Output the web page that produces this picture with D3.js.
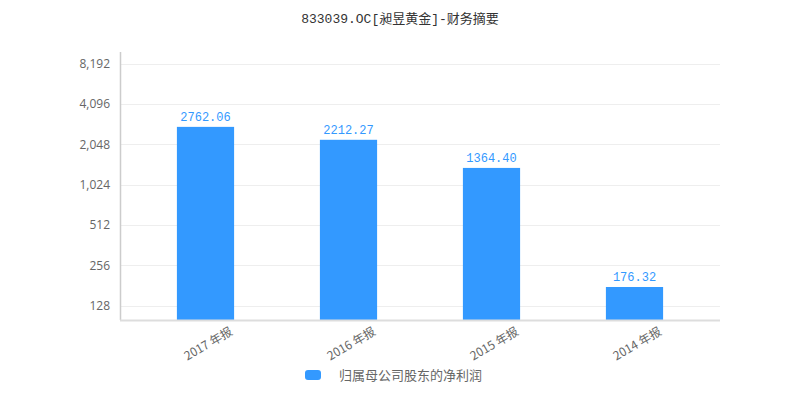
<!DOCTYPE html>
<html><head><meta charset="utf-8">
<script src="https://cdn.jsdelivr.net/npm/d3@7"></script>
<style>body{margin:0;background:#fff}svg{display:block}</style>
</head><body>
<svg id="c" width="800" height="400"></svg>
<script>
const title = "833039.OC[昶昱黄金]-财务摘要";
const categories = ["2017 年报", "2016 年报", "2015 年报", "2014 年报"];
const values = [2762.06, 2212.27, 1364.40, 176.32];
const valueLabels = ["2762.06", "2212.27", "1364.40", "176.32"];
const yTicks = [128, 256, 512, 1024, 2048, 4096, 8192];
const seriesName = "归属母公司股东的净利润";

(function(){
const svg = d3.select("#c");
const pL = 120, pR = 720, pT = 52, pB = 320;
const barColor = "#3399ff";

const y = d3.scaleLog().base(2).domain([100, 10000]).range([pB, pT]);
const x = d3.scaleBand().domain(categories).range([134, 706]).paddingInner(0.6).paddingOuter(0.3);

// title
svg.append("text").attr("x", 400).attr("y", 23).attr("text-anchor", "middle")
  .attr("font-family", "'Liberation Mono','Noto Sans CJK SC',monospace").attr("font-size", 13)
  .attr("fill", "#333").text(title);

// grid
svg.append("g").selectAll("line").data(yTicks).join("line")
  .attr("x1", pL).attr("x2", pR)
  .attr("y1", d => Math.round(y(d)) + 0.5).attr("y2", d => Math.round(y(d)) + 0.5)
  .attr("stroke", "#eeeeee").attr("stroke-width", 1);

// y axis
const yAxis = d3.axisLeft(y).tickValues(yTicks).tickFormat(d3.format(",")).tickSize(0).tickPadding(10);
const gy = svg.append("g").attr("transform", `translate(${pL},0)`).call(yAxis);
gy.select(".domain").remove();
gy.selectAll("text").attr("font-family", "'Open Sans','Noto Sans',sans-serif").attr("font-size", 12).attr("fill", "#666");
svg.append("line").attr("x1", pL + 0.5).attr("x2", pL + 0.5).attr("y1", pT).attr("y2", pB)
  .attr("stroke", "#cccccc").attr("stroke-width", 1.5);

// bars
svg.append("g").selectAll("rect").data(values).join("rect")
  .attr("x", (d, i) => x(categories[i]))
  .attr("width", x.bandwidth())
  .attr("y", d => y(d))
  .attr("height", d => pB - y(d))
  .attr("fill", barColor);

// value labels
svg.append("g").selectAll("text").data(values).join("text")
  .attr("x", (d, i) => x(categories[i]) + x.bandwidth() / 2)
  .attr("y", d => y(d) - 6)
  .attr("text-anchor", "middle")
  .attr("font-family", "'Liberation Mono',monospace").attr("font-size", 12)
  .attr("fill", barColor)
  .text((d, i) => valueLabels[i]);

// x axis line
svg.append("line").attr("x1", pL).attr("x2", pR).attr("y1", pB + 0.5).attr("y2", pB + 0.5)
  .attr("stroke", "#dddddd").attr("stroke-width", 2);

// x labels
const xAxis = d3.axisBottom(x).tickSize(0).tickPadding(0);
const gx = svg.append("g").attr("transform", `translate(0,${pB})`).call(xAxis);
gx.select(".domain").remove();
gx.selectAll("text")
  .attr("font-family", "'Noto Sans CJK SC','Open Sans',sans-serif").attr("font-size", 12).attr("fill", "#666")
  .attr("text-anchor", "end").attr("dy", null).attr("y", 0)
  .attr("transform", "translate(28,14) rotate(-30)");

// legend
svg.append("rect").attr("x", 305).attr("y", 370).attr("width", 16).attr("height", 10).attr("rx", 3)
  .attr("fill", barColor);
svg.append("text").attr("x", 339).attr("y", 380)
  .attr("font-family", "'Noto Sans CJK SC',sans-serif").attr("font-size", 13).attr("fill", "#666")
  .text(seriesName);
})();
</script>
</body></html>
